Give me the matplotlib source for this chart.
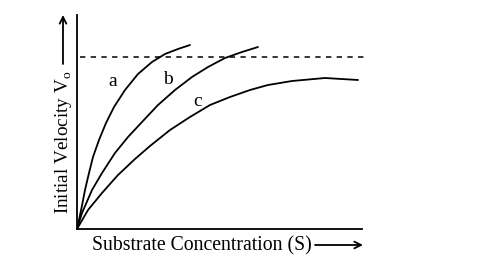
import matplotlib
matplotlib.use("Agg")
import matplotlib.pyplot as plt

plt.rcParams['font.family'] = ['Liberation Serif', 'DejaVu Serif']
plt.rcParams['mathtext.fontset'] = 'custom'
plt.rcParams['mathtext.rm'] = 'Liberation Serif'

# curves (arbitrary units, origin at the axes corner)
a_x = [0, 2, 4.7, 8, 12, 16, 22, 29, 37, 48, 61, 75, 88, 101, 113]
a_y = [0, 9, 22, 39, 56, 72, 89, 106, 122, 139, 155, 167, 175, 180, 184]
b_x = [0, 5, 15, 25, 38, 51, 65, 81, 98, 115, 131, 148, 165, 181]
b_y = [0, 16, 39, 56, 76, 92, 107, 124, 139, 152, 162, 171, 177, 182]
c_x = [0, 11, 25, 41, 58, 73, 93, 113, 133, 153, 173, 191, 215, 248, 281]
c_y = [0, 19, 36, 54, 70, 83, 99, 112, 124, 132, 139, 144, 148, 151, 149]
vmax = 172
curve_labels = ['a', 'b', 'c']
label_pos = [(36, 148), (91, 150), (121, 127)]

W, H = 485, 265
fig = plt.figure(figsize=(W / 100, H / 100), dpi=100)
ax = fig.add_axes([77 / W, (H - 229) / H, 285 / W, 214 / H])
ax.set_xlim(0, 285)
ax.set_ylim(0, 214)

for xs, ys in [(a_x, a_y), (b_x, b_y), (c_x, c_y)]:
    ax.plot(xs, ys, color='black', lw=1.3, solid_joinstyle='round',
            solid_capstyle='round')

ax.plot([3, 290], [vmax, vmax], color='black', lw=1.1, ls=(0, (3.5, 3.5)),
        clip_on=False)

for lab, (x, y) in zip(curve_labels, label_pos):
    ax.text(x, y, lab, fontsize=14, ha='center', va='center')

for s in ['top', 'right']:
    ax.spines[s].set_visible(False)
for s in ['left', 'bottom']:
    ax.spines[s].set_linewidth(1.3)
ax.set_xticks([])
ax.set_yticks([])

# axis titles with arrows
fig.text(92 / W, 1 - 246 / H, 'Substrate Concentration (S)', fontsize=14.2,
         ha='left', va='center')
ax.annotate('', xy=(363 / W, 1 - 245 / H), xytext=(315 / W, 1 - 245 / H),
            xycoords='figure fraction',
            arrowprops=dict(arrowstyle='->', color='black', lw=1.3,
                            shrinkA=0, shrinkB=0, mutation_scale=12))
fig.text(63 / W, 1 - 142 / H, 'Initial Velocity V$_{\\mathrm{o}}$', fontsize=13.8,
         ha='center', va='center', rotation=90)
ax.annotate('', xy=(63 / W, 1 - 15 / H), xytext=(63 / W, 1 - 64 / H),
            xycoords='figure fraction',
            arrowprops=dict(arrowstyle='->', color='black', lw=1.3,
                            shrinkA=0, shrinkB=0, mutation_scale=12))

fig.savefig('out.png', dpi=100)
